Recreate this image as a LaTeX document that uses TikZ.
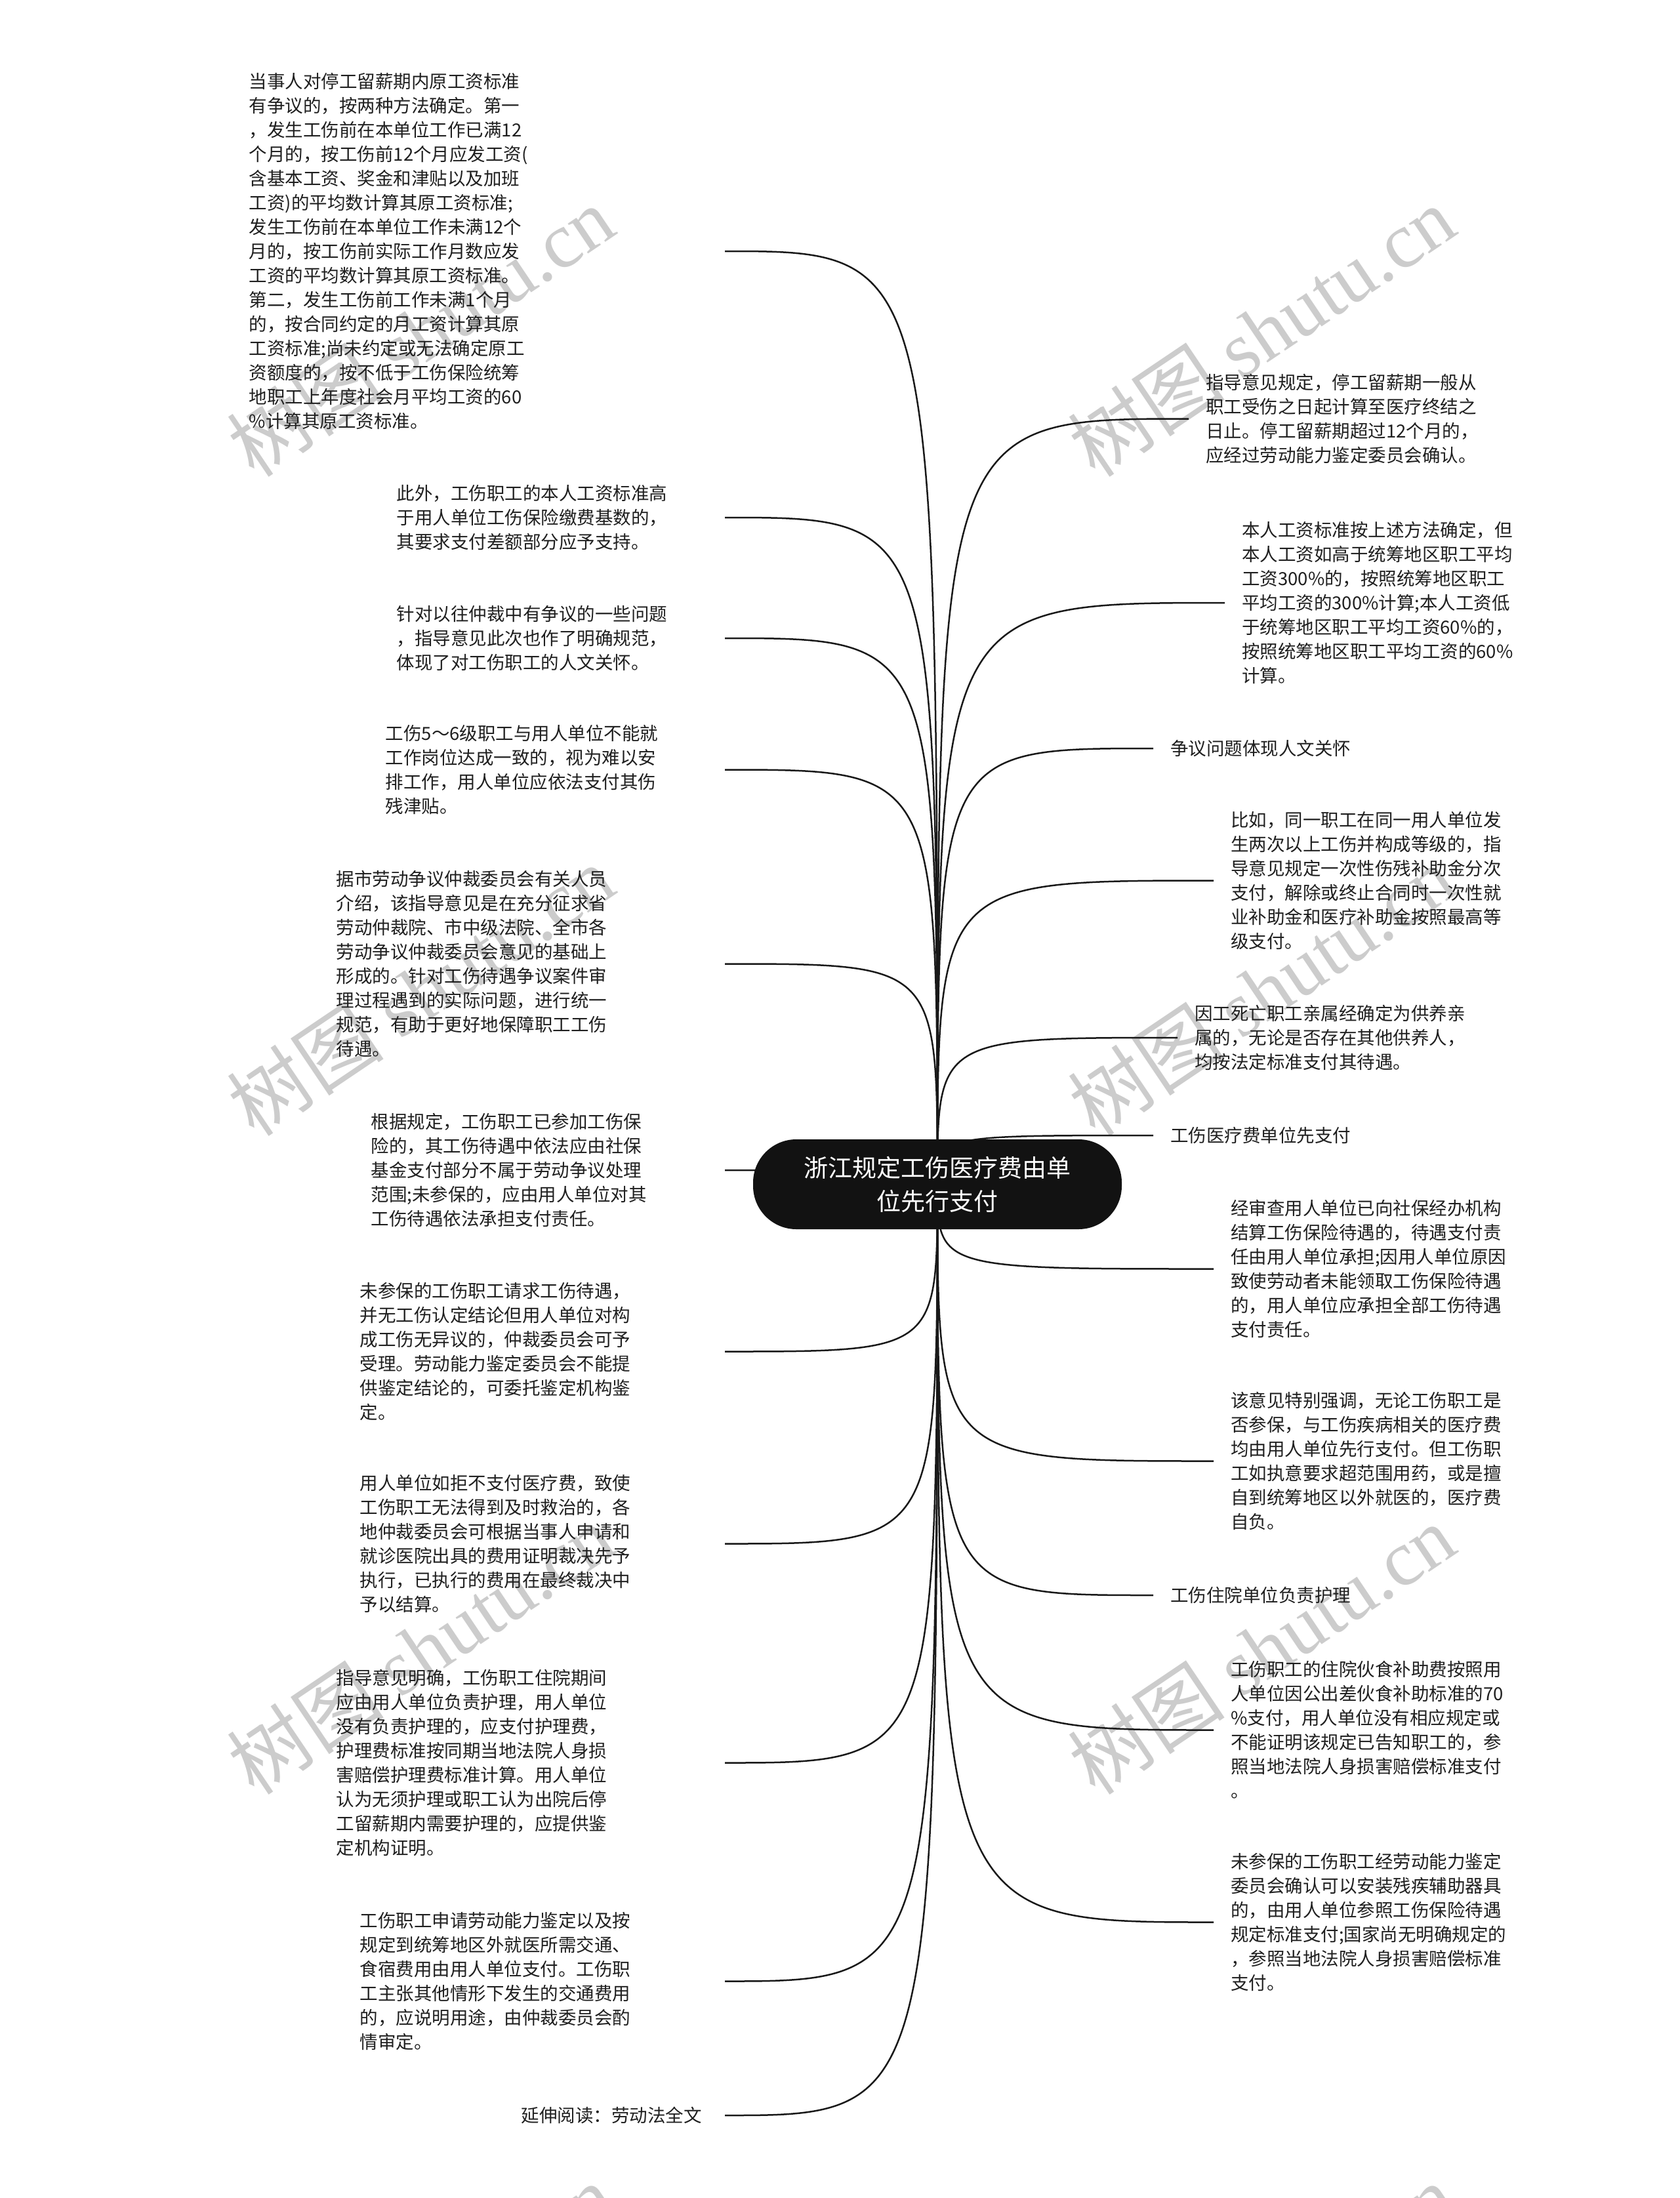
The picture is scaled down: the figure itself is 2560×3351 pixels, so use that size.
\documentclass[tikz,border=0pt]{standalone}
\usepackage{fontspec}
\setmainfont{Noto Sans CJK SC}
\newfontfamily\wmlatin{Liberation Serif}
\pgfdeclarelayer{bg}
\pgfsetlayers{bg,main}
\definecolor{wm}{gray}{0.8}
\tikzset{
  body/.style={font=\fontsize{27.5pt}{37pt}\selectfont, text=black!88},
  lnode/.style={body, anchor=east, align=left, inner sep=0pt, text width=#1},
  rnode/.style={body, anchor=west, align=left, inner xsep=26pt, inner ysep=0pt},
  center/.style={fill=black!93, text=white, rounded corners=66pt, minimum width=562pt,
    minimum height=137pt, align=center, font=\fontsize{37pt}{51pt}\selectfont},
  conn/.style={line width=2.5pt, black!90},
  wmark/.style={text=wm, rotate=34, font=\fontsize{120pt}{120pt}\selectfont}
}
\begin{document}
\begin{tikzpicture}[x=1pt,y=-1pt]
\useasboundingbox (0,0) rectangle (2560,3351);
\begin{pgfonlayer}{bg}
\fill[white] (0,0) rectangle (2560,3351);
\end{pgfonlayer}

\node[center] (c) at (1429,1805.5) {浙江规定工伤医疗费由单\\位先行支付};

% left nodes
\node[lnode=725pt] (L1) at (1105,383) {当事人对停工留薪期内原工资标准\\有争议的，按两种方法确定。第一\\，发生工伤前在本单位工作已满12\\个月的，按工伤前12个月应发工资(\\含基本工资、奖金和津贴以及加班\\工资)的平均数计算其原工资标准;\\发生工伤前在本单位工作未满12个\\月的，按工伤前实际工作月数应发\\工资的平均数计算其原工资标准。\\第二，发生工伤前工作未满1个月\\的，按合同约定的月工资计算其原\\工资标准;尚未约定或无法确定原工\\资额度的，按不低于工伤保险统筹\\地职工上年度社会月平均工资的60\\\%计算其原工资标准。};
\node[lnode=500pt] (L2) at (1105,789) {此外，工伤职工的本人工资标准高\\于用人单位工伤保险缴费基数的，\\其要求支付差额部分应予支持。};
\node[lnode=500pt] (L3) at (1105,973) {针对以往仲裁中有争议的一些问题\\，指导意见此次也作了明确规范，\\体现了对工伤职工的人文关怀。};
\node[lnode=517pt] (L4) at (1105,1173.5) {工伤5～6级职工与用人单位不能就\\工作岗位达成一致的，视为难以安\\排工作，用人单位应依法支付其伤\\残津贴。};
\node[lnode=592pt] (L5) at (1105,1469.5) {据市劳动争议仲裁委员会有关人员\\介绍，该指导意见是在充分征求省\\劳动仲裁院、市中级法院、全市各\\劳动争议仲裁委员会意见的基础上\\形成的。针对工伤待遇争议案件审\\理过程遇到的实际问题，进行统一\\规范，有助于更好地保障职工工伤\\待遇。};
\node[lnode=539pt] (L6) at (1105,1784) {根据规定，工伤职工已参加工伤保\\险的，其工伤待遇中依法应由社保\\基金支付部分不属于劳动争议处理\\范围;未参保的，应由用人单位对其\\工伤待遇依法承担支付责任。};
\node[lnode=556pt] (L7) at (1105,2060.5) {未参保的工伤职工请求工伤待遇，\\并无工伤认定结论但用人单位对构\\成工伤无异议的，仲裁委员会可予\\受理。劳动能力鉴定委员会不能提\\供鉴定结论的，可委托鉴定机构鉴\\定。};
\node[lnode=556pt] (L8) at (1105,2353.5) {用人单位如拒不支付医疗费，致使\\工伤职工无法得到及时救治的，各\\地仲裁委员会可根据当事人申请和\\就诊医院出具的费用证明裁决先予\\执行，已执行的费用在最终裁决中\\予以结算。};
\node[lnode=592pt] (L9) at (1105,2687.5) {指导意见明确，工伤职工住院期间\\应由用人单位负责护理，用人单位\\没有负责护理的，应支付护理费，\\护理费标准按同期当地法院人身损\\害赔偿护理费标准计算。用人单位\\认为无须护理或职工认为出院后停\\工留薪期内需要护理的，应提供鉴\\定机构证明。};
\node[lnode=556pt] (L10) at (1105,3020.5) {工伤职工申请劳动能力鉴定以及按\\规定到统筹地区外就医所需交通、\\食宿费用由用人单位支付。工伤职\\工主张其他情形下发生的交通费用\\的，应说明用途，由仲裁委员会酌\\情审定。};
\node[lnode=310pt] (L11) at (1105,3225) {延伸阅读：劳动法全文};

% right nodes
\node[rnode] (R1) at (1812,638.5) {指导意见规定，停工留薪期一般从\\职工受伤之日起计算至医疗终结之\\日止。停工留薪期超过12个月的，\\应经过劳动能力鉴定委员会确认。};
\node[rnode] (R2) at (1867,919) {本人工资标准按上述方法确定，但\\本人工资如高于统筹地区职工平均\\工资300\%的，按照统筹地区职工\\平均工资的300\%计算;本人工资低\\于统筹地区职工平均工资60\%的，\\按照统筹地区职工平均工资的60\%\\计算。};
\node[rnode] (R3) at (1758,1141) {争议问题体现人文关怀};
\node[rnode] (R4) at (1850,1342.5) {比如，同一职工在同一用人单位发\\生两次以上工伤并构成等级的，指\\导意见规定一次性伤残补助金分次\\支付，解除或终止合同时一次性就\\业补助金和医疗补助金按照最高等\\级支付。};
\node[rnode] (R5) at (1795,1582) {因工死亡职工亲属经确定为供养亲\\属的，无论是否存在其他供养人，\\均按法定标准支付其待遇。};
\node[rnode] (R6) at (1758,1731) {工伤医疗费单位先支付};
\node[rnode] (R7) at (1850,1934.5) {经审查用人单位已向社保经办机构\\结算工伤保险待遇的，待遇支付责\\任由用人单位承担;因用人单位原因\\致使劳动者未能领取工伤保险待遇\\的，用人单位应承担全部工伤待遇\\支付责任。};
\node[rnode] (R8) at (1850,2227.5) {该意见特别强调，无论工伤职工是\\否参保，与工伤疾病相关的医疗费\\均由用人单位先行支付。但工伤职\\工如执意要求超范围用药，或是擅\\自到统筹地区以外就医的，医疗费\\自负。};
\node[rnode] (R9) at (1758,2432) {工伤住院单位负责护理};
\node[rnode] (R10) at (1850,2637.5) {工伤职工的住院伙食补助费按照用\\人单位因公出差伙食补助标准的70\\\%支付，用人单位没有相应规定或\\不能证明该规定已告知职工的，参\\照当地法院人身损害赔偿标准支付\\。};
\node[rnode] (R11) at (1850,2930.5) {未参保的工伤职工经劳动能力鉴定\\委员会确认可以安装残疾辅助器具\\的，由用人单位参照工伤保险待遇\\规定标准支付;国家尚无明确规定的\\，参照当地法院人身损害赔偿标准\\支付。};

\begin{pgfonlayer}{bg}
% watermarks
\foreach \wx/\wy/\wn in {641/505/1,1923/505/2,641/1510/3,1923/1510/4,641/2514/5,1923/2514/6,641/3519/7,1923/3519/8}{
  \node[wmark] (wm\wn) at (\wx,\wy) {树图 {\wmlatin shutu.cn}};
}
% connectors
\foreach \n in {L1,L2,L3,L4,L5,L6,L7,L8,L9,L10,L11}{
  \draw[conn] (c.center) .. controls (c.center |- \n.east) .. (\n.east);
}
\foreach \n in {R1,R2,R3,R4,R5,R6,R7,R8,R9,R10,R11}{
  \draw[conn] (c.center) .. controls (c.center |- \n.west) .. (\n.west);
}
\end{pgfonlayer}
\end{tikzpicture}
\end{document}
